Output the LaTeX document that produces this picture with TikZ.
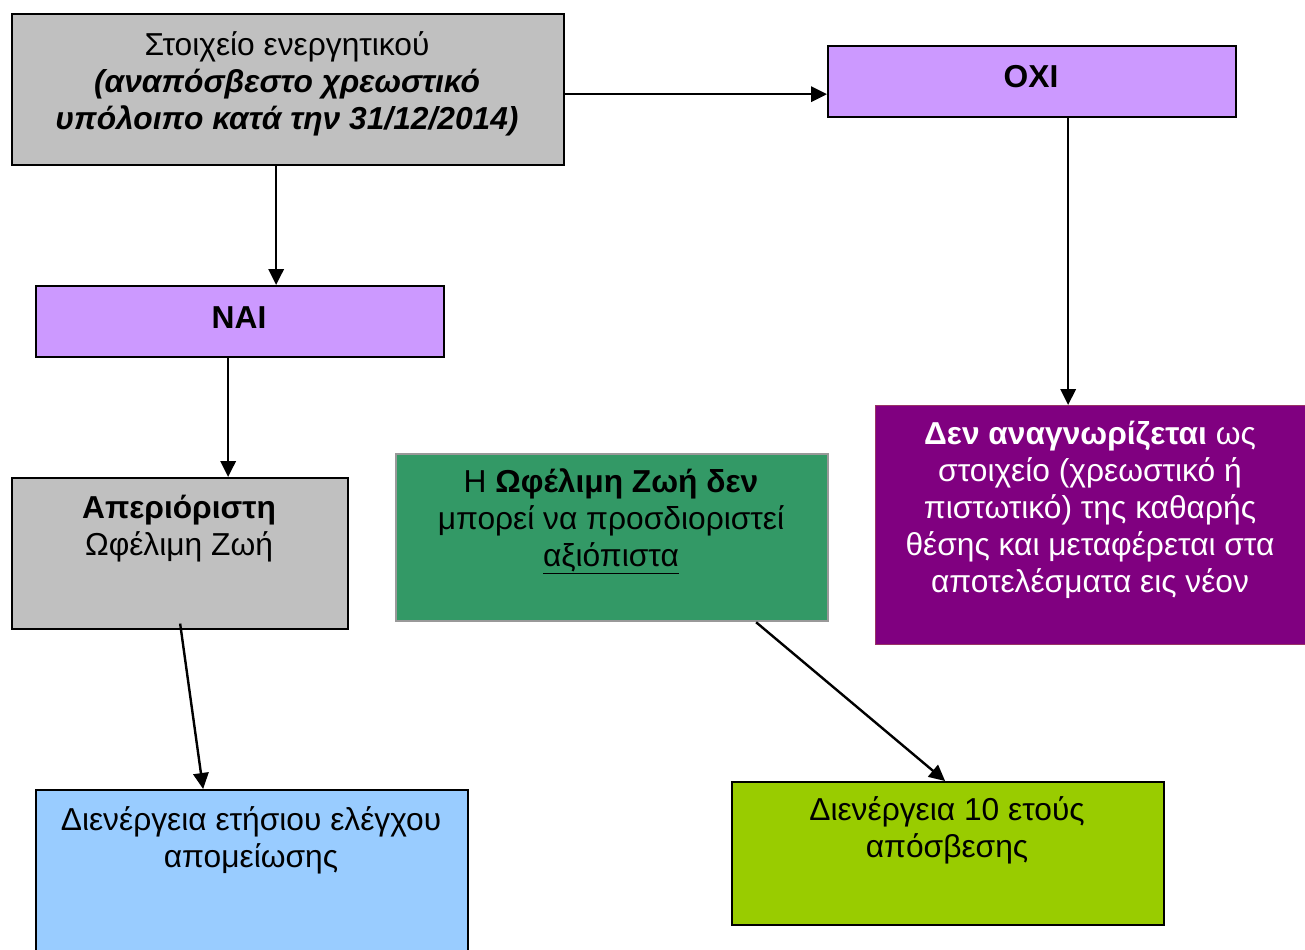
\documentclass[tikz,border=0pt]{standalone}
\usepackage{fontspec}
\setmainfont{Liberation Sans}
\usetikzlibrary{arrows.meta}
\definecolor{boxgray}{HTML}{C0C0C0}
\definecolor{lilac}{HTML}{CC99FF}
\definecolor{seagreen}{HTML}{339966}
\definecolor{plum}{HTML}{800080}
\definecolor{plumedge}{HTML}{993366}
\definecolor{skyblue}{HTML}{99CCFF}
\definecolor{lime}{HTML}{99CC00}
\begin{document}
\begin{tikzpicture}[x=0.75pt,y=-0.75pt,
  box/.style={draw=black,line width=1.7pt,rectangle,inner sep=0pt,anchor=north west},
  txt/.style={font=\fontsize{23.8}{27.75}\selectfont,align=center,inner sep=0pt,anchor=base},
  arr/.style={line width=1.8pt,-{Triangle[length=12pt,width=11.5pt]}}]
\useasboundingbox (0,0) rectangle (1305,949);
\clip (0,0) rectangle (1305,949);

% boxes
\node[box,fill=boxgray,minimum width=414pt,minimum height=113.25pt] (top) at (11,13) {};
\node[box,fill=lilac,minimum width=306pt,minimum height=53.25pt] (oxi) at (827,45) {};
\node[box,fill=lilac,minimum width=306pt,minimum height=53.25pt] (nai) at (35,285) {};
\node[box,fill=boxgray,minimum width=252pt,minimum height=113.25pt] (aper) at (11,477) {};
\node[box,draw=gray!80,fill=seagreen,minimum width=324pt,minimum height=125.25pt] (ofel) at (395,453) {};
\node[box,draw=plumedge,line width=1pt,fill=plum,minimum width=322.5pt,minimum height=179.25pt] (den) at (875,405) {};
\node[box,fill=skyblue,minimum width=324pt,minimum height=128.25pt] (elegxos) at (35,789) {};
\node[box,fill=lime,minimum width=324pt,minimum height=107.25pt] (aposv) at (731,781) {};

% texts (each placed at the baseline of its last line)
\node[txt] (topT) at (287,129) {Στοιχείο ενεργητικού\\\textbf{\textit{(αναπόσβεστο χρεωστικό}}\\\textbf{\textit{υπόλοιπο κατά την 31/12/2014)}}};
\node[txt] (oxiT) at (1031,87) {\textbf{ΟΧΙ}};
\node[txt] (naiT) at (239,328) {\textbf{ΝΑΙ}};
\node[txt] (aperT) at (179,555) {\textbf{Απεριόριστη}\\Ωφέλιμη Ζωή};
\node[txt] (ofelT) at (611,566) {Η \textbf{Ωφέλιμη Ζωή δεν}\\μπορεί να προσδιοριστεί\\\underline{αξιόπιστα}};
\node[txt,text=white] (denT) at (1090,592) {\textbf{Δεν αναγνωρίζεται} ως\\στοιχείο (χρεωστικό ή\\πιστωτικό) της καθαρής\\θέσης και μεταφέρεται στα\\αποτελέσματα εις νέον};
\node[txt] (elegxosT) at (251,867) {Διενέργεια ετήσιου ελέγχου\\απομείωσης};
\node[txt] (aposvT) at (947,857) {Διενέργεια 10 ετούς\\απόσβεσης};

% connectors
\draw[arr] ([yshift=-3.4pt]top.east) -- ([yshift=-3.4pt]top.east -| oxi.west);
\draw[arr] ([xshift=-9pt]top.south) -- ([xshift=-9pt]top.south |- nai.north);
\draw[arr] ([xshift=27pt]oxi.south) -- ([xshift=27pt]oxi.south |- den.north);
\draw[arr] ([xshift=-9pt]nai.south) -- ([xshift=-9pt]nai.south |- aper.north);
\draw[arr] ([yshift=5pt]aper.south) -- ([xshift=-36.75pt]elegxos.north);
\draw[arr] ([xshift=108pt]ofel.south) -- ([xshift=-2.25pt]aposv.north);
\end{tikzpicture}
\end{document}
